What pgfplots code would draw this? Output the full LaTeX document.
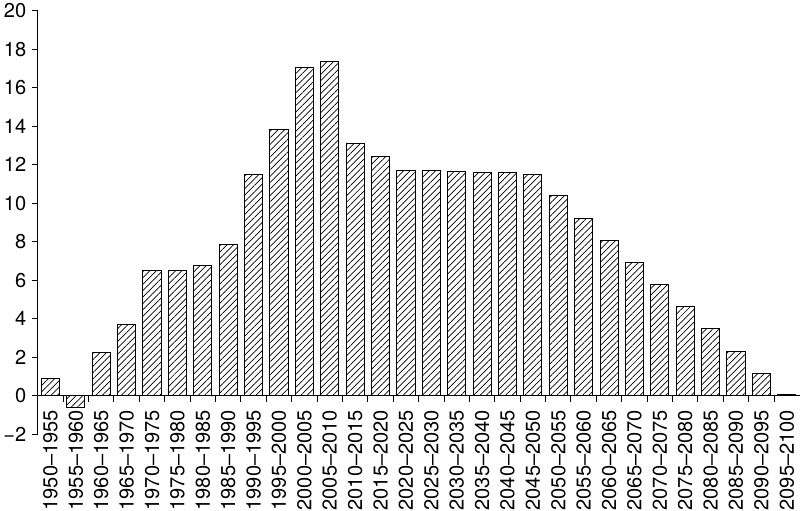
\documentclass[border=0pt]{standalone}
\usepackage{pgfplots}
\pgfplotsset{compat=1.18}
\usepackage{fontspec}
\setmainfont{TeX Gyre Heros}
\usetikzlibrary{patterns.meta}
\pgfplotstableread{
x y
0 0.9
1 -0.6
2 2.25
3 3.7
4 6.5
5 6.5
6 6.75
7 7.85
8 11.5
9 13.85
10 17.05
11 17.35
12 13.1
13 12.4
14 11.7
15 11.7
16 11.65
17 11.6
18 11.6
19 11.5
20 10.4
21 9.2
22 8.05
23 6.9
24 5.75
25 4.65
26 3.5
27 2.3
28 1.15
29 0.05
}\datatable
\begin{document}
\begin{tikzpicture}
\begin{axis}[
  scale only axis,
  width=757bp, height=421bp,
  xmin=-0.5, xmax=29.5,
  ymin=-2, ymax=20,
  axis x line=middle,
  axis y line=left,
  axis line style={-, line width=1bp},
  ytick={-2,0,...,20},
  yticklabels={\char"2212 2,0,2,4,6,8,10,12,14,16,18,20},
  ytick align=outside,
  major tick length=6bp,
  minor tick length=6bp,
  xtick={0,...,29},
  xticklabels={1950–1955,1955–1960,1960–1965,1965–1970,1970–1975,1975–1980,1980–1985,1985–1990,1990–1995,1995–2000,2000–2005,2005–2010,2010–2015,2015–2020,2020–2025,2025–2030,2030–2035,2035–2040,2040–2045,2045–2050,2050–2055,2055–2060,2060–2065,2065–2070,2070–2075,2075–2080,2080–2085,2085–2090,2090–2095,2095–2100},
  minor xtick={0.5,1.5,...,28.5},
  xtick align=outside,
  major x tick style={draw=none},
  tick style={line width=1bp, black},
  xticklabel style={rotate=90, anchor=east, font=\fontsize{20}{24}\selectfont, inner sep=0pt, xshift=-8bp},
  yticklabel style={font=\fontsize{20}{24}\selectfont, xshift=-2bp},
  /pgf/number format/assume math mode=true,
  clip=false,
]
\addplot[ybar, bar width=18bp, draw=black, line width=1bp,
  pattern={Lines[angle=45,distance=4.5bp,line width=0.7bp]}] table[x=x,y=y]{\datatable};
\end{axis}
\end{tikzpicture}
\end{document}
